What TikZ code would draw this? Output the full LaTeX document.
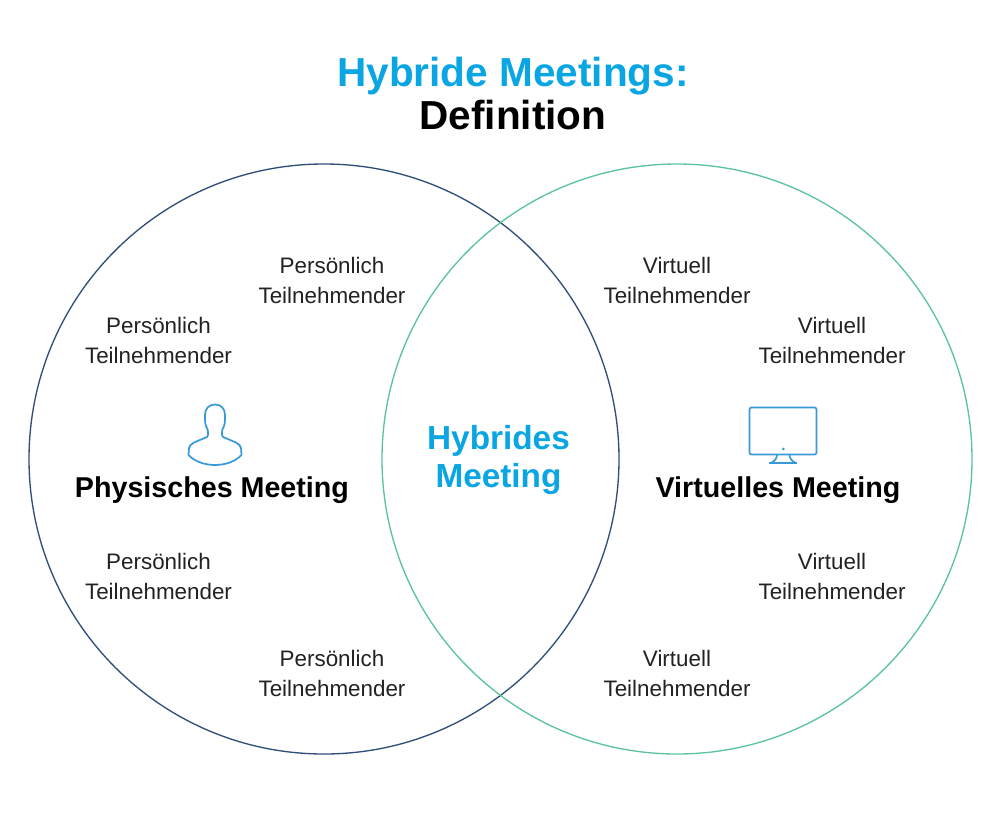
\documentclass[tikz,border=0pt]{standalone}
\usepackage{fontspec}
\setmainfont{Liberation Sans}
\definecolor{bluetxt}{HTML}{0AA5E3}
\definecolor{navyc}{HTML}{2F4F79}
\definecolor{greenc}{HTML}{5CC49A}
\definecolor{iconc}{HTML}{3A9AD9}
\definecolor{bodytxt}{HTML}{222222}
\tikzset{
 x=0.75pt,y=-0.75pt,
 vcircle/.style={circle,draw,line width=1pt,minimum size=442.5pt,inner sep=0pt},
 small/.style={align=center,inner sep=0pt,text=bodytxt,font=\fontsize{16.8}{21.8}\selectfont},
 heading/.style={align=center,inner sep=0pt,font=\fontsize{21.5}{26}\selectfont\bfseries},
 title/.style={align=center,inner sep=0pt,font=\fontsize{30.4}{36}\selectfont\bfseries},
 icon/.style={draw=iconc,line width=1.3pt,line join=round}
}
\begin{document}
\begin{tikzpicture}
\useasboundingbox (0,0) rectangle (1000,833);
\fill[white] (0,0) rectangle (1000,833);
\node[vcircle,draw=navyc] (left) at (324,459) {};
\node[vcircle,draw=greenc] (right) at (677,459) {};
\node[title,text=bluetxt] (t1) at (513,76) {Hybride Meetings:};
\node[title,text=black] (t2) at (513,115) {Definition};
\node[small] (p1) at (332,280.5) {Persönlich\\Teilnehmender};
\node[small] (p2) at (158.5,340.5) {Persönlich\\Teilnehmender};
\node[small] (p3) at (158.5,576.5) {Persönlich\\Teilnehmender};
\node[small] (p4) at (332,673.5) {Persönlich\\Teilnehmender};
\node[small] (v1) at (677,280.5) {Virtuell\\Teilnehmender};
\node[small] (v2) at (832,340.5) {Virtuell\\Teilnehmender};
\node[small] (v3) at (832,576.5) {Virtuell\\Teilnehmender};
\node[small] (v4) at (677,673.5) {Virtuell\\Teilnehmender};
\node[heading] (pm) at (212,490) {Physisches Meeting};
\node[heading] (vm) at (778,490) {Virtuelles Meeting};
\node[align=center,inner sep=0pt,text=bluetxt,font=\fontsize{25}{28}\selectfont\bfseries] (hm) at (498.5,460) {Hybrides\\Meeting};
% person icon
\draw[icon] (215,404.5)
  .. controls (209,404.5) and (205,408.5) .. (205,415)
  .. controls (205,420) and (205,424) .. (206,426)
  .. controls (207.5,429) and (208.5,431) .. (208,433)
  .. controls (208,435) and (208,436) .. (207,437)
  -- (194,442.5)
  .. controls (191,444) and (189.5,446) .. (189,448)
  -- (188.5,455)
  .. controls (194,461) and (204,465) .. (215,465)
  .. controls (226,465) and (236,461) .. (241.5,455)
  -- (241,448)
  .. controls (240.5,446) and (239,444) .. (236,442.5)
  -- (223,437)
  .. controls (222,436) and (222,435) .. (222,433)
  .. controls (221.5,431) and (222.5,429) .. (224,426)
  .. controls (225,424) and (225,420) .. (225,415)
  .. controls (225,408.5) and (221,404.5) .. (215,404.5) -- cycle;
% monitor icon
\draw[icon,rounded corners=1.5pt] (749.5,407.5) rectangle (816.5,454.5);
\fill[iconc] (783.3,449) circle (1.1pt);
\draw[icon] (777,454.5) .. controls (777,458) and (775,461) .. (771,463);
\draw[icon] (789.5,454.5) .. controls (789.5,458) and (791.5,461) .. (795.5,463);
\draw[icon] (769,463) -- (797,463);
\end{tikzpicture}
\end{document}
